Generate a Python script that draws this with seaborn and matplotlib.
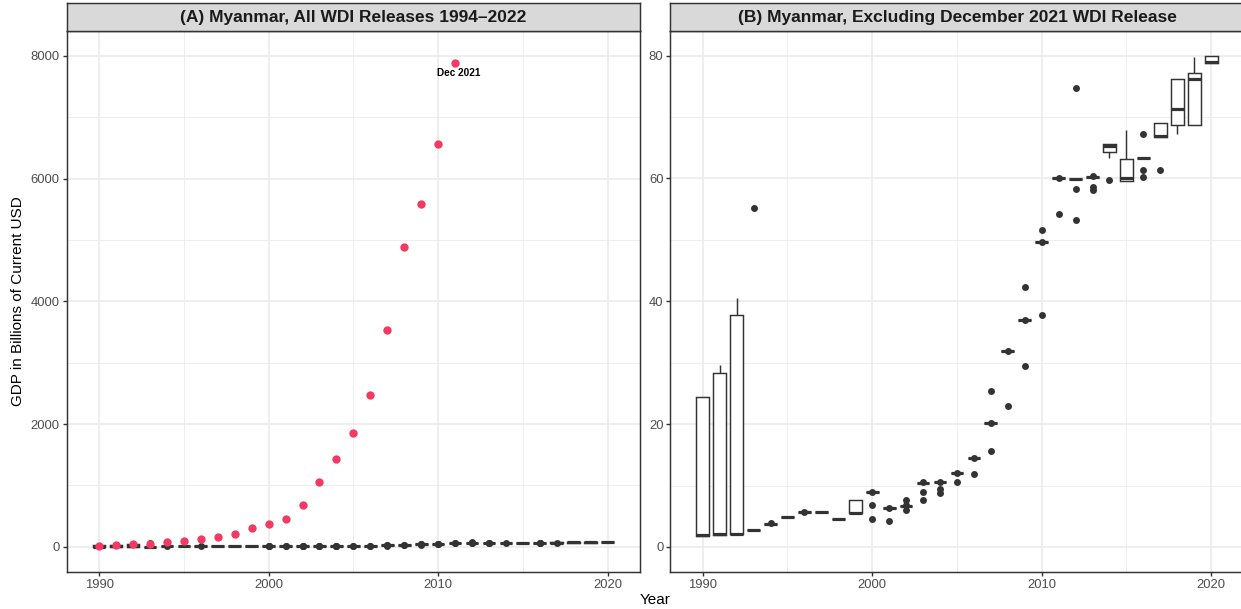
import matplotlib
matplotlib.use("Agg")
import matplotlib.pyplot as plt
import seaborn as sns
import pandas as pd
from matplotlib.ticker import MultipleLocator, FormatStrFormatter

# GDP (billions of current USD) reported for each year across WDI releases,
# excluding the December 2021 release
years = list(range(1990, 2021))
gdp_by_year = [
    [1.79, 1.79, 1.85, 1.95, 2.05, 24.47, 24.47, 24.47],                      # 1990
    [1.93, 1.95, 1.97, 2.00, 2.05, 27.90, 28.27, 28.50, 29.57],               # 1991
    [2.02, 2.05, 2.07, 2.10, 2.15, 36.50, 37.80, 38.90, 40.50],               # 1992
    [2.82, 2.82, 2.82, 2.82, 2.82, 2.82, 2.82, 2.82, 2.82, 55.20],            # 1993
    [3.80, 3.80, 3.80, 3.80, 3.80, 3.80, 3.80, 3.80, 3.85],                   # 1994
    [4.88, 4.88, 4.88, 4.88, 4.88, 4.88, 4.88, 4.88, 4.88],                   # 1995
    [5.70, 5.75, 5.75, 5.75, 5.75, 5.75, 5.75, 5.75, 5.75],                   # 1996
    [5.64, 5.64, 5.64, 5.64, 5.64, 5.64, 5.64, 5.64, 5.64],                   # 1997
    [4.60, 4.60, 4.60, 4.60, 4.60, 4.60, 4.60, 4.60, 4.60],                   # 1998
    [5.59, 5.59, 5.60, 5.60, 5.62, 7.65, 7.65, 7.65],                         # 1999
    [4.61, 6.78, 8.90, 8.90, 8.90, 8.90, 8.90, 8.90, 8.90, 8.95],             # 2000
    [4.29, 6.35, 6.35, 6.35, 6.35, 6.35, 6.35, 6.35, 6.35, 6.40],             # 2001
    [6.02, 6.73, 6.73, 6.73, 6.73, 6.73, 6.73, 6.73, 6.73, 6.78, 7.65],       # 2002
    [7.70, 8.95, 10.47, 10.47, 10.47, 10.47, 10.47, 10.47, 10.47, 10.47, 10.52],  # 2003
    [8.84, 9.39, 10.58, 10.58, 10.58, 10.58, 10.58, 10.58, 10.58, 10.58, 10.63],  # 2004
    [10.53, 11.99, 11.99, 11.99, 11.99, 11.99, 11.99, 11.99, 11.99, 12.04],   # 2005
    [11.83, 14.49, 14.49, 14.49, 14.49, 14.49, 14.49, 14.49, 14.49, 14.54],   # 2006
    [15.57, 20.13, 20.13, 20.13, 20.13, 20.13, 20.13, 20.13, 20.13, 20.18, 25.45],  # 2007
    [23.00, 31.85, 31.85, 31.85, 31.85, 31.85, 31.85, 31.85, 31.85, 31.90],   # 2008
    [29.41, 36.90, 36.90, 36.90, 36.90, 36.90, 36.90, 36.90, 36.90, 36.95, 42.27],  # 2009
    [37.80, 49.60, 49.60, 49.60, 49.60, 49.60, 49.60, 49.60, 49.60, 49.65, 51.56],  # 2010
    [54.16, 60.00, 60.00, 60.00, 60.00, 60.00, 60.00, 60.00, 60.05],          # 2011
    [53.24, 58.34, 59.90, 59.90, 59.90, 59.90, 59.90, 59.90, 59.90, 74.67],   # 2012
    [58.10, 58.67, 60.20, 60.20, 60.20, 60.20, 60.20, 60.20, 60.20, 60.45],   # 2013
    [59.70, 63.40, 64.36, 65.00, 65.34, 65.45, 65.56, 65.56, 65.56],          # 2014
    [59.64, 59.64, 59.64, 59.80, 60.00, 61.50, 63.10, 65.00, 67.90],          # 2015
    [60.30, 61.40, 63.28, 63.28, 63.28, 63.28, 63.28, 63.28, 67.18],          # 2016
    [61.40, 66.70, 66.70, 66.90, 67.05, 68.97, 68.97, 68.97],                 # 2017
    [67.18, 68.65, 71.25, 76.24, 76.24],                                      # 2018
    [68.65, 68.65, 76.19, 77.10, 79.80],                                      # 2019
    [78.85, 78.85, 79.00, 79.93, 79.93],                                      # 2020
]

# December 2021 WDI release
dec2021_years = list(range(1990, 2012))
dec2021_gdp = [16, 27, 37, 49, 70, 98, 119, 157, 211, 304, 369, 455, 683,
               1062, 1431, 1859, 2467, 3528, 4878, 5582, 6569, 7891]

panel_titles = ["(A) Myanmar, All WDI Releases 1994\u20132022",
                "(B) Myanmar, Excluding December 2021 WDI Release"]

# Long-format tables
rows = [(y, v) for y, vals in zip(years, gdp_by_year) for v in vals]
df_excl = pd.DataFrame(rows, columns=["year", "gdp"])
df_dec = pd.DataFrame({"year": dec2021_years, "gdp": dec2021_gdp})
df_all = pd.concat([df_excl, df_dec], ignore_index=True)

sns.set_style("white")
plt.rcParams["font.family"] = ["Liberation Sans", "DejaVu Sans"]

W, H = 1241, 609
fig = plt.figure(figsize=(W / 100, H / 100), dpi=100)

GREY20 = "#333333"
GRID = "#EBEBEB"
RED = "#F23A62"


def px_rect(x0, y0, x1, y1):
    return [x0 / W, 1 - y1 / H, (x1 - x0) / W, (y1 - y0) / H]


panel_top, panel_bottom, strip_top = 31.0, 572.0, 2.7
lefts = [66.7, 670.3]
panel_w = 573.3

box_kw = dict(native_scale=True, width=0.75, color="white", linecolor=GREY20,
              linewidth=1.05, fliersize=5, showcaps=False,
              flierprops=dict(marker="o", markerfacecolor=GREY20,
                              markeredgecolor=GREY20, markeredgewidth=0),
              medianprops=dict(linewidth=2.3, color=GREY20))

axes = []
for i, x0 in enumerate(lefts):
    ax = fig.add_axes(px_rect(x0, panel_top, x0 + panel_w, panel_bottom))
    axes.append(ax)
    sax = fig.add_axes(px_rect(x0, strip_top, x0 + panel_w, panel_top))
    sax.set_facecolor("#D9D9D9")
    sax.set_xticks([])
    sax.set_yticks([])
    for sp in sax.spines.values():
        sp.set_color(GREY20)
        sp.set_linewidth(1.05)
    sax.text(0.5, 0.47, panel_titles[i], ha="center", va="center",
             fontsize=12.5, fontweight="bold", color="#1A1A1A",
             transform=sax.transAxes)

ax_a, ax_b = axes

# Panel A: all releases, December 2021 highlighted
sns.boxplot(data=df_all, x="year", y="gdp", ax=ax_a, **box_kw)
sns.scatterplot(data=df_dec, x="year", y="gdp", ax=ax_a, color=RED, s=36,
                linewidth=0, zorder=5)
ax_a.annotate("Dec 2021", xy=(2011, 7891), xytext=(2.5, -7.5),
              textcoords="offset points", ha="center", va="center",
              fontsize=7.2, fontweight="bold", color="black")
ax_a.set_ylim(-412, 8405)
ax_a.yaxis.set_major_locator(MultipleLocator(2000))
ax_a.yaxis.set_minor_locator(MultipleLocator(1000))

# Panel B: December 2021 release excluded
sns.boxplot(data=df_excl, x="year", y="gdp", ax=ax_b, **box_kw)
ax_b.set_ylim(-4.07, 84.0)
ax_b.yaxis.set_major_locator(MultipleLocator(20))
ax_b.yaxis.set_minor_locator(MultipleLocator(10))

for ax in axes:
    ax.set_xlim(1988.0875, 2021.9125)
    ax.xaxis.set_major_locator(MultipleLocator(10))
    ax.xaxis.set_minor_locator(MultipleLocator(5))
    ax.xaxis.set_major_formatter(FormatStrFormatter("%d"))
    ax.set_xlabel("")
    ax.set_ylabel("")
    ax.set_facecolor("white")
    ax.set_axisbelow(True)
    ax.grid(which="major", color=GRID, linewidth=1.2)
    ax.grid(which="minor", color=GRID, linewidth=0.6)
    ax.tick_params(which="major", length=2.75, width=1.0, color=GREY20,
                   labelcolor="#4D4D4D", labelsize=9.4, pad=2.2,
                   bottom=True, left=True)
    ax.tick_params(which="minor", length=0)
    for sp in ax.spines.values():
        sp.set_visible(True)
        sp.set_color(GREY20)
        sp.set_linewidth(1.05)

fig.text(18 / W, 1 - 301.5 / H, "GDP in Billions of Current USD",
         rotation=90, ha="center", va="center", fontsize=11, color="black")
fig.text(655 / W, 1 - 600.5 / H, "Year", ha="center", va="center",
         fontsize=11, color="black")

fig.savefig("out.png", dpi=100)
